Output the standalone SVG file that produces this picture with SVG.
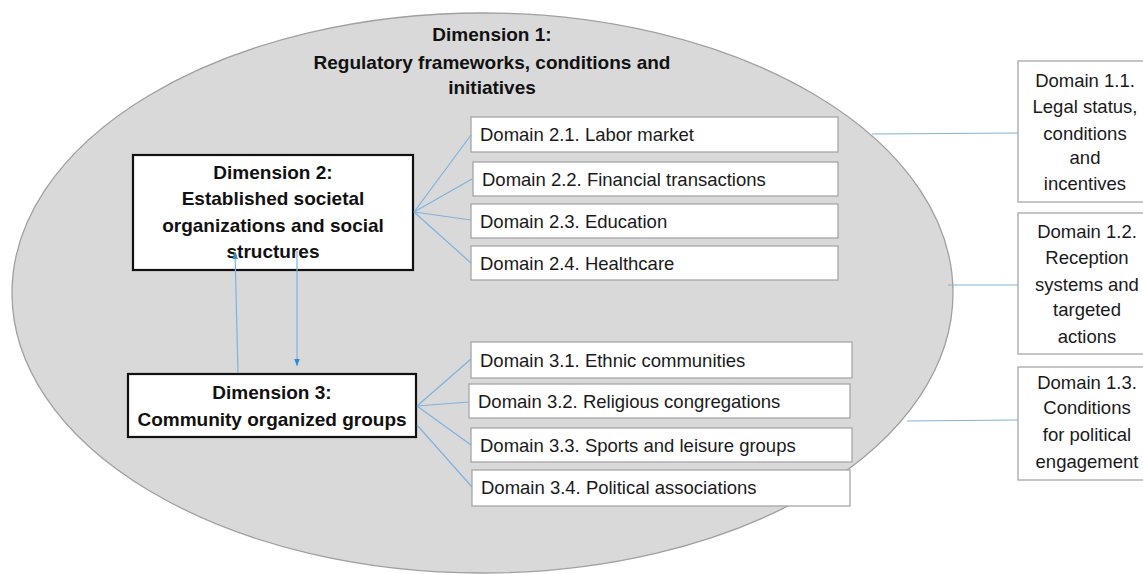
<svg xmlns="http://www.w3.org/2000/svg" width="1143" height="574" viewBox="0 0 1143 574">
<defs>
<style>
.reg{font-family:"Liberation Sans",Arial,sans-serif;font-size:18.5px;fill:#1a1a1a}
.bold{font-family:"Liberation Sans",Arial,sans-serif;font-size:19px;font-weight:bold;fill:#111}
.dom{fill:#fff;stroke:#a6a6a6;stroke-width:1.3}
.dim{fill:#fff;stroke:#111;stroke-width:2.2}
.con{stroke:#7cb3e0;stroke-width:1.2;fill:none}
</style>
<marker id="ah" viewBox="0 0 10 10" refX="10" refY="5" markerWidth="7" markerHeight="7" orient="auto" markerUnits="userSpaceOnUse">
<path d="M0,1 L10,5 L0,9 Z" fill="#2e8bd6"/>
</marker>
</defs>
<rect width="1143" height="574" fill="#fff"/>
<g id="dimension1">
<ellipse cx="482.5" cy="293" rx="470.5" ry="280" fill="#d9d9d9" stroke="#a0a0a0" stroke-width="1.3"/>
<text class="bold" text-anchor="middle"><tspan x="492" y="41">Dimension 1:</tspan><tspan x="492" y="69">Regulatory frameworks, conditions and</tspan><tspan x="492" y="94">initiatives</tspan></text>
</g>
<g id="dimension2">
<rect class="dim" x="133" y="155" width="280" height="115"/>
<text class="bold" text-anchor="middle"><tspan x="273" y="179">Dimension 2:</tspan><tspan x="273" y="205">Established societal</tspan><tspan x="273" y="232">organizations and social</tspan><tspan x="273" y="258">structures</tspan></text>
</g>
<g id="dimension3">
<rect class="dim" x="128" y="374" width="288" height="63"/>
<text class="bold" text-anchor="middle"><tspan x="272" y="399">Dimension 3:</tspan><tspan x="272" y="426">Community organized groups</tspan></text>
</g>
<g id="domain2-1"><rect class="dom" x="471" y="117" width="367" height="35"/><text class="reg" x="480" y="141">Domain 2.1. Labor market</text></g>
<g id="domain2-2"><rect class="dom" x="473" y="162" width="365" height="34"/><text class="reg" x="482" y="186">Domain 2.2. Financial transactions</text></g>
<g id="domain2-3"><rect class="dom" x="471" y="204" width="367" height="34"/><text class="reg" x="480" y="228">Domain 2.3. Education</text></g>
<g id="domain2-4"><rect class="dom" x="471" y="246" width="367" height="34"/><text class="reg" x="480" y="270">Domain 2.4. Healthcare</text></g>
<g id="domain3-1"><rect class="dom" x="471" y="342" width="381" height="36"/><text class="reg" x="480" y="367">Domain 3.1. Ethnic communities</text></g>
<g id="domain3-2"><rect class="dom" x="469" y="384" width="381" height="34"/><text class="reg" x="478" y="408">Domain 3.2. Religious congregations</text></g>
<g id="domain3-3"><rect class="dom" x="471" y="428" width="381" height="34"/><text class="reg" x="480" y="452">Domain 3.3. Sports and leisure groups</text></g>
<g id="domain3-4"><rect class="dom" x="472" y="470" width="378" height="36"/><text class="reg" x="481" y="494">Domain 3.4. Political associations</text></g>
<g id="domain1-1"><rect class="dom" x="1018" y="61" width="134" height="141"/>
<text class="reg" text-anchor="middle"><tspan x="1085" y="87">Domain 1.1.</tspan><tspan x="1085" y="113">Legal status,</tspan><tspan x="1085" y="140">conditions</tspan><tspan x="1085" y="164">and</tspan><tspan x="1085" y="190">incentives</tspan></text></g>
<g id="domain1-2"><rect class="dom" x="1018" y="213" width="134" height="141"/>
<text class="reg" text-anchor="middle"><tspan x="1087" y="238">Domain 1.2.</tspan><tspan x="1087" y="264">Reception</tspan><tspan x="1087" y="291">systems and</tspan><tspan x="1087" y="316">targeted</tspan><tspan x="1087" y="343">actions</tspan></text></g>
<g id="domain1-3"><rect class="dom" x="1018" y="367" width="134" height="113"/>
<text class="reg" text-anchor="middle"><tspan x="1087" y="389">Domain 1.3.</tspan><tspan x="1087" y="414">Conditions</tspan><tspan x="1087" y="441">for political</tspan><tspan x="1087" y="468">engagement</tspan></text></g>
<g id="connectors">
<line class="con" x1="414" y1="212" x2="471" y2="135"/>
<line class="con" x1="414" y1="212" x2="472" y2="179"/>
<line class="con" x1="414" y1="212" x2="471" y2="220"/>
<line class="con" x1="414" y1="212" x2="471" y2="263"/>
<line class="con" x1="417" y1="406" x2="471" y2="359"/>
<line class="con" x1="417" y1="406" x2="469" y2="402"/>
<line class="con" x1="417" y1="406" x2="471" y2="445"/>
<line class="con" x1="417" y1="425" x2="472" y2="487"/>
<line class="con" x1="872" y1="134" x2="1018" y2="133"/>
<line class="con" x1="948" y1="285" x2="1018" y2="285"/>
<line class="con" x1="907" y1="421" x2="1018" y2="420"/>
<line class="con" x1="238" y1="373" x2="235" y2="252" marker-end="url(#ah)"/>
<line class="con" x1="297" y1="251" x2="297" y2="366" marker-end="url(#ah)"/>
</g>
</svg>
